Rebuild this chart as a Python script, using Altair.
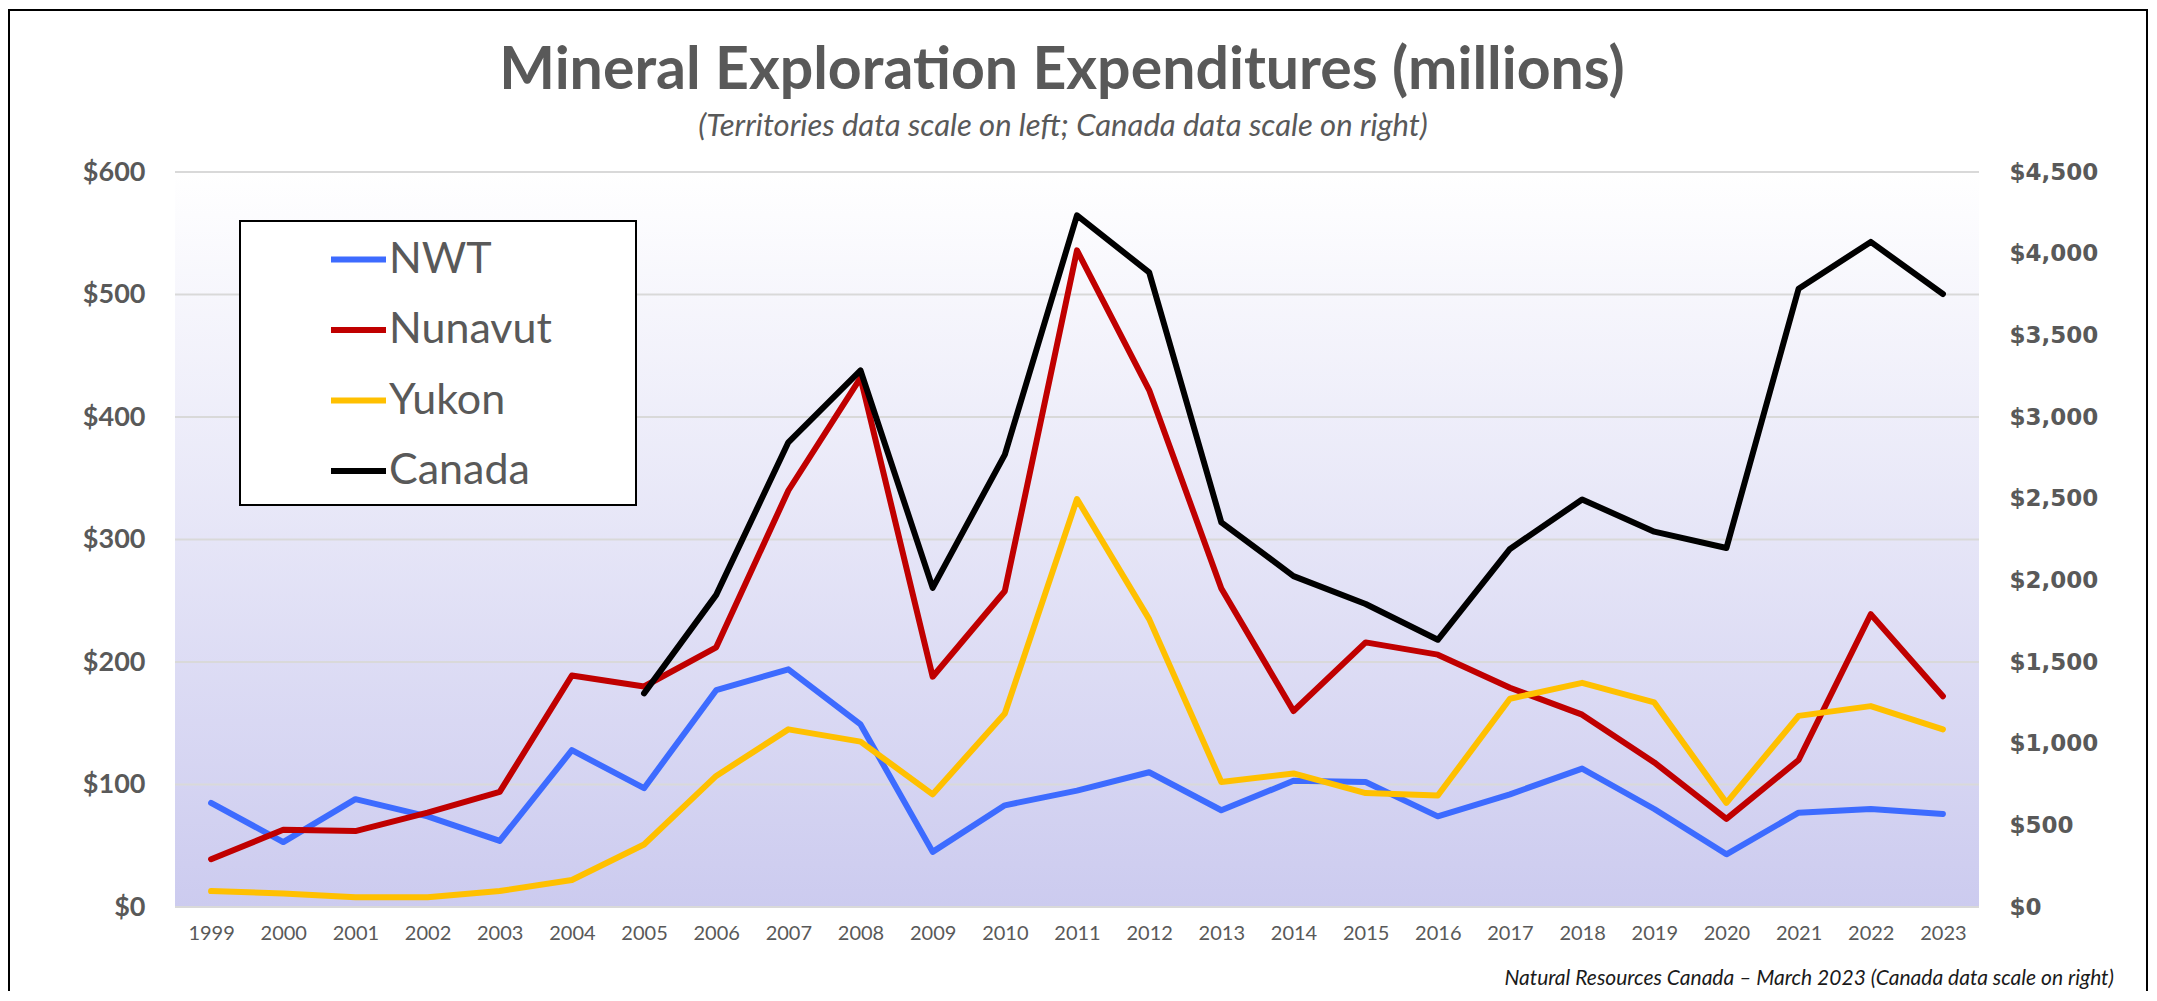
import altair as alt
import pandas as pd

# ---------------- data ----------------
years = [str(y) for y in range(1999, 2024)]
nwt = [85, 53, 88, 74, 54, 128, 97, 177, 194, 149, 45, 83, 95, 110, 79, 103, 102, 74, 92, 113, 80, 43, 77, 80, 76]
nunavut = [39, 63, 62, 77, 94, 189, 180, 212, 340, 432, 188, 258, 536, 422, 260, 160, 216, 206, 179, 157, 118, 72, 120, 239, 172]
yukon = [13, 11, 8, 8, 13, 22, 51, 107, 145, 135, 92, 158, 333, 235, 102, 109, 93, 91, 170, 183, 167, 85, 156, 164, 145]
canada_years = [str(y) for y in range(2005, 2024)]
canada = [1308, 1911, 2845, 3285, 1954, 2770, 4235, 3885, 2355, 2026, 1855, 1636, 2192, 2495, 2298, 2198, 3785, 4072, 3753]

series_names = ["NWT", "Nunavut", "Yukon", "Canada"]
series_colors = ["#3d6bff", "#c00000", "#ffc000", "#000000"]
left_ticks = [0, 100, 200, 300, 400, 500, 600]
right_ticks = [0, 500, 1000, 1500, 2000, 2500, 3000, 3500, 4000, 4500]

title_text = "Mineral Exploration Expenditures (millions)"
subtitle_text = "(Territories data scale on left; Canada data scale on right)"
footer_text = "Natural Resources Canada \u2013 March 2023 (Canada data scale on right)"

# ---------------- layout ----------------
W, H = 1804, 735
GRAY = "#595959"

terr_df = pd.DataFrame({
    "year": years * 3,
    "series": ["NWT"] * len(years) + ["Nunavut"] * len(years) + ["Yukon"] * len(years),
    "value": nwt + nunavut + yukon,
})
can_df = pd.DataFrame({"year": canada_years, "series": ["Canada"] * len(canada_years), "value": canada})
tick_df = pd.DataFrame({"tick": left_ticks})

x_enc = alt.X(
    "year:O",
    scale=alt.Scale(type="point", domain=years, padding=0.5),
    axis=alt.Axis(title=None, labelAngle=0, ticks=False, domain=False, grid=False,
                  labelFont="Lato", labelFontSize=20, labelColor=GRAY, labelPadding=16),
)

left_scale = alt.Scale(domain=[0, 600], nice=False)
left_axis = alt.Axis(title=None, values=left_ticks, ticks=False, domain=False, grid=False,
                     labelExpr="'$' + format(datum.value, ',')",
                     labelFont="Lato", labelFontWeight="bold", labelFontSize=27,
                     labelColor=GRAY, labelPadding=30)
right_axis = alt.Axis(title=None, orient="right", values=right_ticks, ticks=False, domain=False, grid=False,
                      labelExpr="'$' + format(datum.value, ',')",
                      labelFont="DejaVu Sans", labelFontWeight="bold", labelFontSize=23,
                      labelColor=GRAY, labelPadding=30)

legend = alt.Legend(
    title=None, orient="none", legendX=153, legendY=57,
    symbolType="stroke", symbolSize=3025, symbolStrokeWidth=6,
    labelFont="Lato", labelFontSize=43, labelColor=GRAY, labelOffset=0, labelLimit=400,
    rowPadding=17.5, padding=0,
)
color_enc = alt.Color("series:N", scale=alt.Scale(domain=series_names, range=series_colors), legend=legend)

gradient = alt.Gradient(
    gradient="linear",
    stops=[alt.GradientStop(color="#ffffff", offset=0), alt.GradientStop(color="#cccbef", offset=1)],
    x1=0, x2=0, y1=0, y2=1,
)
one = pd.DataFrame({"a": [1]})

bg = alt.Chart(one).mark_rect(fill=gradient).encode(
    x=alt.value(0), x2=alt.value(W), y=alt.value(0), y2=alt.value(H))

grid = alt.Chart(tick_df).mark_rule(color="#d9d9d9", strokeWidth=2).encode(
    y=alt.Y("tick:Q", scale=left_scale, axis=left_axis), x=alt.value(0), x2=alt.value(W))

legend_frame = alt.Chart(one).mark_rect(fill="white", stroke="black", strokeWidth=2).encode(
    x=alt.value(65), x2=alt.value(461), y=alt.value(49), y2=alt.value(333))

line_style = dict(strokeWidth=6, strokeCap="round", strokeJoin="round")

terr = alt.Chart(terr_df).mark_line(**line_style).encode(
    x=x_enc,
    y=alt.Y("value:Q", scale=left_scale, axis=left_axis),
    color=color_enc,
)

can = alt.Chart(can_df).mark_line(**line_style).encode(
    x=x_enc,
    y=alt.Y("value:Q", scale=alt.Scale(domain=[0, 4500], nice=False), axis=right_axis),
    color=color_enc,
)

title_mark = alt.Chart(pd.DataFrame({"t": [title_text]})).mark_text(
    align="center", baseline="alphabetic", font="Lato", fontWeight="bold", fontSize=59, color=GRAY
).encode(x=alt.value(887), y=alt.value(-83), text="t:N")

subtitle_mark = alt.Chart(pd.DataFrame({"t": [subtitle_text]})).mark_text(
    align="center", baseline="alphabetic", font="Lato", fontStyle="italic", fontSize=31, color=GRAY
).encode(x=alt.value(888), y=alt.value(-36), text="t:N")

footer = alt.Chart(pd.DataFrame({"t": [footer_text]})).mark_text(
    align="right", baseline="middle", font="Lato", fontStyle="italic", fontSize=21, color="#1a1a1a"
).encode(x=alt.value(1939), y=alt.value(807), text="t:N")

border = alt.Chart(one).mark_rect(fill="transparent", stroke="black", strokeWidth=2).encode(
    x=alt.value(-166), x2=alt.value(1972), y=alt.value(-162), y2=alt.value(860))

inner = alt.layer(bg, grid, legend_frame, terr)

chart = alt.layer(inner, can, title_mark, subtitle_mark, footer, border).resolve_scale(y="independent").properties(
    width=W, height=H,
    padding={"left": 167, "top": 164, "right": 170, "bottom": 84},
    autosize=alt.AutoSizeParams(type="none"),
    background="white",
).configure_view(strokeWidth=0)

chart.save("out.html", embed_options={"renderer": "svg", "actions": False})
